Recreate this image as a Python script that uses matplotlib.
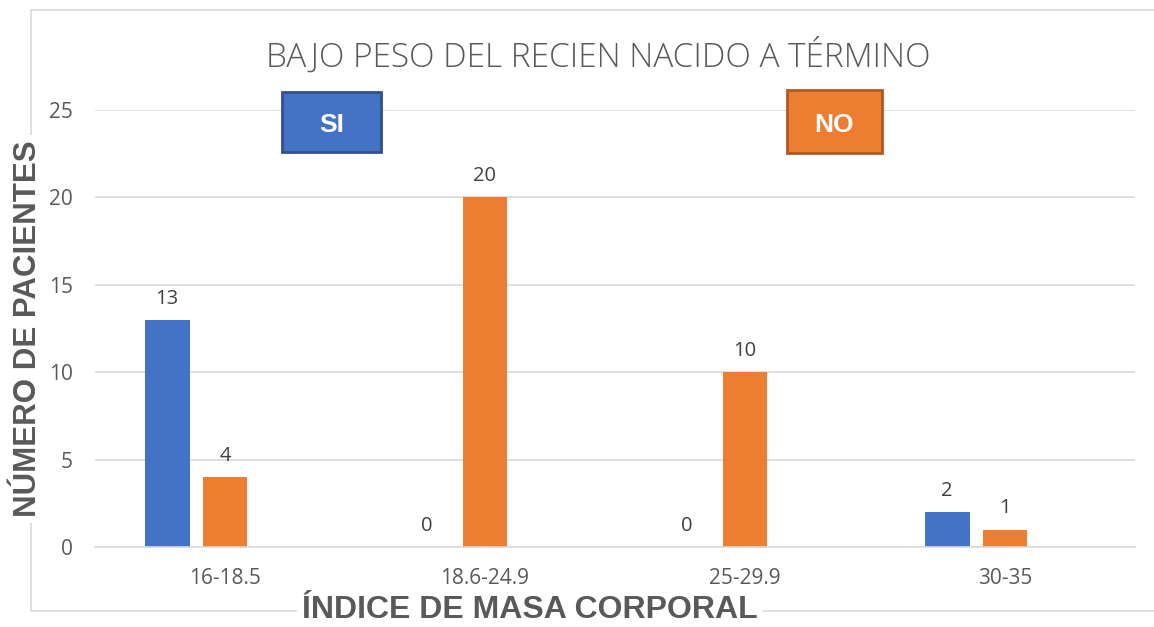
import matplotlib.pyplot as plt
from matplotlib.patches import Rectangle

# data
categorias = ['16-18.5', '18.6-24.9', '25-29.9', '30-35']
si_valores = [13, 0, 0, 2]
no_valores = [4, 20, 10, 1]
y_ticks = [0, 5, 10, 15, 20, 25]

azul = '#4472C4'
naranja = '#ED7D31'
gris = '#595959'

W, H = 1154, 627
fig = plt.figure(figsize=(W / 100, H / 100), dpi=100)

def px(x0, y0, x1, y1):
    # pixel box -> figure fraction [left, bottom, width, height]
    return [x0 / W, 1 - y1 / H, (x1 - x0) / W, (y1 - y0) / H]

ax = fig.add_axes(px(95, 110, 1135, 547))

xs = list(range(len(categorias)))
ancho = 0.173
desp = 0.223
b1 = ax.bar([x - desp for x in xs], si_valores, width=ancho, color=azul)
b2 = ax.bar(xs, no_valores, width=ancho, color=naranja)

for barras, vals in ((b1, si_valores), (b2, no_valores)):
    for b, v in zip(barras, vals):
        ax.annotate(str(v), (b.get_x() + b.get_width() / 2, v),
                    xytext=(0, 8), textcoords='offset points',
                    ha='center', va='bottom', fontsize=14.5,
                    family='Open Sans', color='#404040')

ax.set_xlim(-0.5, len(categorias) - 0.5)
ax.set_ylim(0, 25)
ax.set_yticks(y_ticks)
ax.set_xticks(xs)
ax.set_xticklabels(categorias)
ax.grid(axis='y', color='#d9d9d9', linewidth=1.2)
ax.set_axisbelow(True)
for s in ('top', 'right', 'left'):
    ax.spines[s].set_visible(False)
ax.spines['bottom'].set_color('#d9d9d9')
ax.spines['bottom'].set_linewidth(1.2)
ax.tick_params(length=0, colors=gris, labelsize=15)
ax.tick_params(axis='y', pad=16)
ax.tick_params(axis='x', pad=15)
for t in ax.get_xticklabels() + ax.get_yticklabels():
    t.set_family('Open Sans')

# outer border of the chart area
fig.add_artist(Rectangle((31 / W, 1 - 611 / H), 1.2, (611 - 10) / H,
                         transform=fig.transFigure, fill=False,
                         edgecolor='#d9d9d9', linewidth=1.2))

fig.text(598 / W, 1 - 57 / H, 'BAJO PESO DEL RECIEN NACIDO A TÉRMINO',
         ha='center', va='center', fontsize=24, color=gris,
         family='Open Sans', fontweight='light')

fig.text(28 / W, 1 - 329 / H, 'NÚMERO DE PACIENTES', rotation=90,
         ha='center', va='center', fontsize=22.5, fontweight='bold',
         color=gris, family='Liberation Sans',
         bbox=dict(facecolor='white', edgecolor='none', pad=4))
fig.text(530 / W, 1 - 610 / H, 'ÍNDICE DE MASA CORPORAL',
         ha='center', va='center', fontsize=23, fontweight='bold',
         color=gris, family='Liberation Sans',
         bbox=dict(facecolor='white', edgecolor='none', pad=4))

# legend-like boxes
for (x0, y0, x1, y1), txt, fc, ec in (((282, 92, 381, 152), 'SI', azul, '#2F528F'),
                                      ((787, 90, 882, 153), 'NO', naranja, '#AE5A21')):
    fig.add_artist(Rectangle((x0 / W, 1 - y1 / H), (x1 - x0) / W, (y1 - y0) / H,
                             transform=fig.transFigure, facecolor=fc,
                             edgecolor=ec, linewidth=2))
    fig.text((x0 + x1) / 2 / W, 1 - ((y0 + y1) / 2 + 3) / H, txt,
             ha='center', va='center', fontsize=19, fontweight='bold',
             color='white', family='Liberation Sans')

fig.savefig('out.png', dpi=100)
